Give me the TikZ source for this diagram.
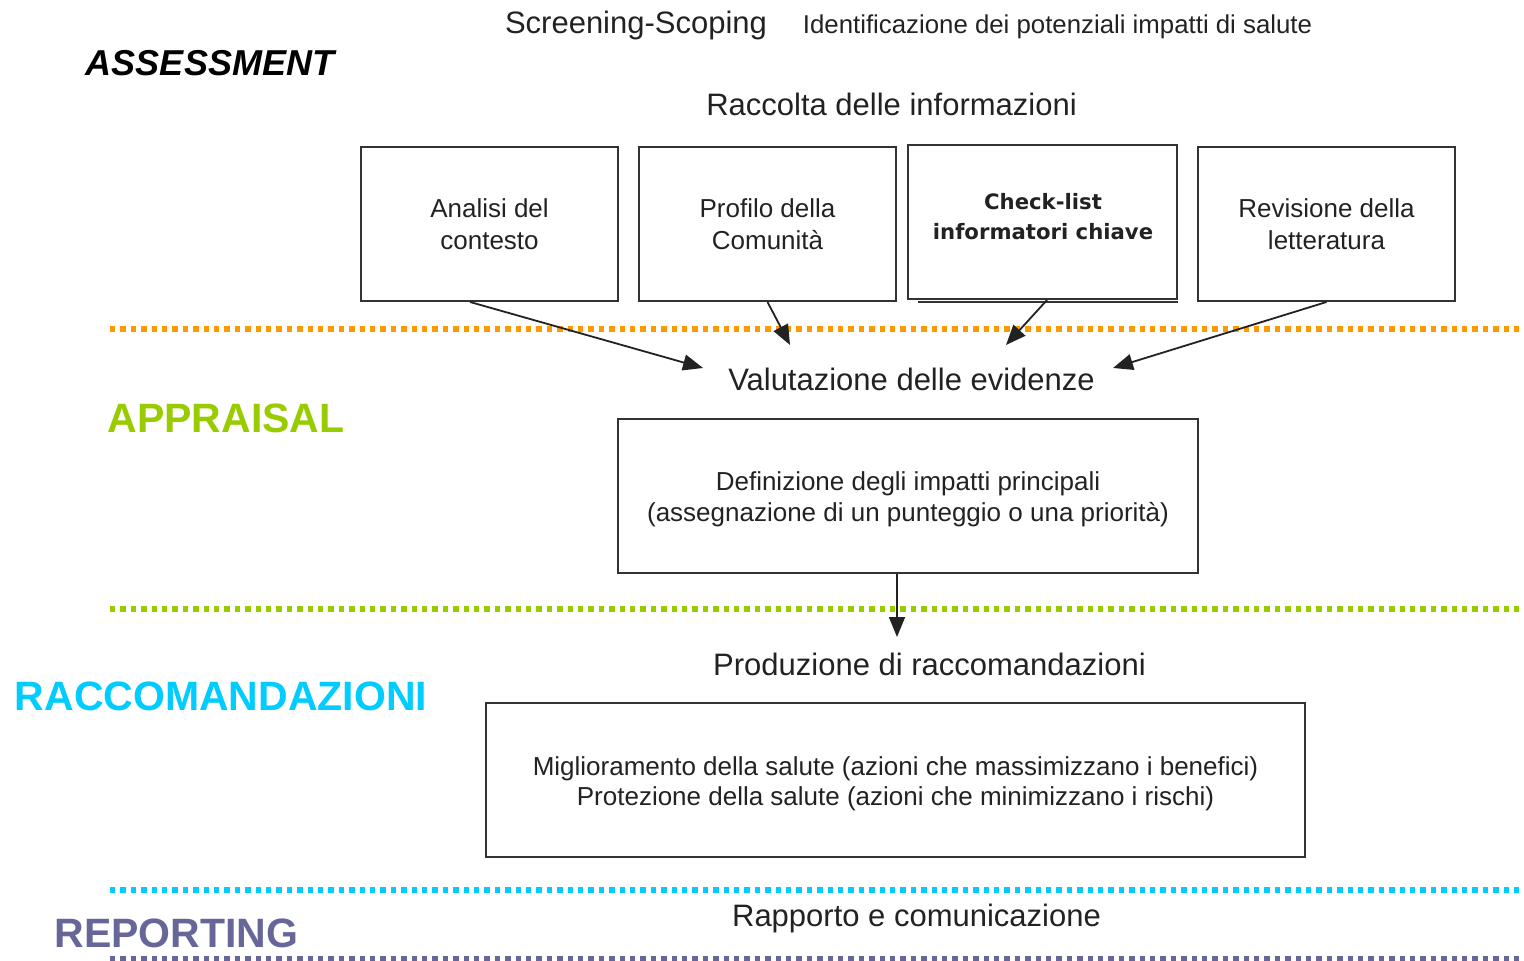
\documentclass[tikz,border=0pt]{standalone}
\usepackage{fontspec}
\setmainfont{Liberation Sans}
\newfontfamily\dvfont{DejaVu Sans}
\usetikzlibrary{arrows.meta,calc}
\definecolor{txt}{HTML}{222222}
\definecolor{orng}{HTML}{FF9900}
\definecolor{grn}{HTML}{99CC00}
\definecolor{cyn}{HTML}{00CCFF}
\definecolor{purp}{HTML}{666699}
\definecolor{boxline}{HTML}{333333}
\begin{document}
\begin{tikzpicture}[x=0.5pt,y=-0.5pt,
  every node/.style={text=txt,inner sep=0pt},
  box/.style={draw=boxline,line width=1pt,minimum height=77pt,align=center,
    font=\fontsize{13}{16}\selectfont},
  smallbox/.style={box,minimum width=128.5pt},
  boxtext/.style={align=center,font=\fontsize{13}{15.5}\selectfont},
  heading/.style={font=\fontsize{15.5}{18}\selectfont},
  phase/.style={font=\fontsize{20.5}{24}\selectfont\bfseries},
  arr/.style={draw=txt,line width=0.9pt,-{Triangle[length=10pt,width=8pt]}},
  dotline/.style={line width=2.6pt,dash pattern=on 2.7pt off 2.5pt}]
\useasboundingbox (0,0) rectangle (1524,961);
% headings
\node[heading] (scr) at (636,25) {Screening-Scoping};
\node[font=\fontsize{12.9}{15}\selectfont] (ide) at (1057.5,27) {Identificazione dei potenziali impatti di salute};
\node[font=\fontsize{18}{22}\selectfont\bfseries\itshape,text=black] (ass) at (210,63) {ASSESSMENT};
\node[heading] (rac) at (891.5,104) {Raccolta delle informazioni};
% four boxes
\node[smallbox] (b1) at (489.5,224) {Analisi del\\contesto};
\node[smallbox] (b2) at (767.5,224) {Profilo della\\Comunità};
\draw[boxline,line width=1pt] (918,302.5) -- (1178,302.5);
\node[box,minimum width=134.5pt,fill=white] (b3) at (1042.5,222) {};
\node[font=\fontsize{10.6}{15}\selectfont\dvfont\bfseries,align=center] (b3t) at (1043,217) {Check-list\\informatori chiave};
\node[smallbox] (b4) at (1326.5,224) {Revisione della\\letteratura};
% dotted separators
\draw[dotline,orng] (110,329) -- (1524,329);
\draw[dotline,grn] (110,609) -- (1524,609);
\draw[dotline,cyn] (110,890) -- (1524,890);
\draw[dotline,purp] (110,959) -- (1524,959);
% valutazione
\node[heading] (val) at (911.5,379) {Valutazione delle evidenze};
\coordinate (v1) at (703,368);
\coordinate (v2) at (790,345);
\coordinate (v3) at (1006,345);
\coordinate (v4) at (1113,368);
\draw[arr] ($(b1.south)+(-19.5,0)$) -- (v1);
\draw[arr] (b2.south) -- (v2);
\draw[arr] ($(b3.south)+(4.5,0)$) -- (v3);
\draw[arr] (b4.south) -- (v4);
\node[phase,text=grn] (app) at (226,418) {APPRAISAL};
\node[box,minimum width=290pt] (def) at (908,496) {};
\node[boxtext] (deft) at (908,499) {Definizione degli impatti principali\\(assegnazione di un punteggio o una priorità)};
\coordinate (p0) at (897,637);
\draw[arr] ($(def.south)+(-11,0)$) -- (p0);
\node[heading] (pro) at (929.5,664) {Produzione di raccomandazioni};
\node[phase,text=cyn] (rcm) at (221,696) {RACCOMANDAZIONI};
\node[box,minimum width=409.5pt] (mig) at (895.5,780) {};
\node[boxtext,font=\fontsize{13}{15}\selectfont] (migt) at (895.5,783.5) {Miglioramento della salute (azioni che massimizzano i benefici)\\Protezione della salute (azioni che minimizzano i rischi)};
\node[heading] (rap) at (916.5,918) {Rapporto e comunicazione};
\node[phase,text=purp] (rep) at (176.5,933) {REPORTING};
\end{tikzpicture}
\end{document}
